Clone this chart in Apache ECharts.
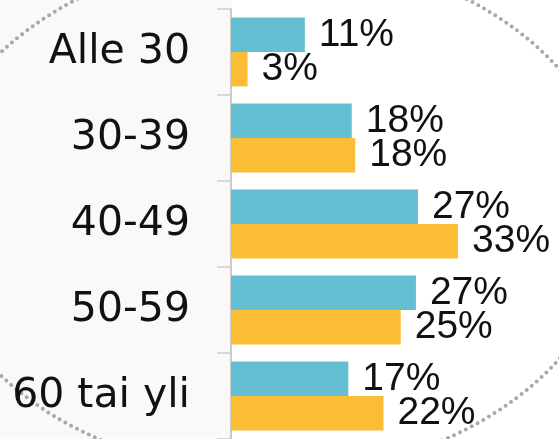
<!DOCTYPE html>
<html>
<head>
<meta charset="utf-8">
<script src="https://cdn.jsdelivr.net/npm/echarts@6/dist/echarts.min.js"></script>
<style>html,body{margin:0;padding:0;background:#faf9f7;}#c{width:559px;height:439px;}</style>
</head>
<body>
<div id="c"></div>
<script>
const categories = ['Alle 30', '30-39', '40-49', '50-59', '60 tai yli'];
const tealValues = [10.7, 17.5, 27.1, 26.8, 17.0];
const yellowValues = [2.4, 18.0, 32.9, 24.6, 22.1];
const tealLabels = ['11%', '18%', '27%', '27%', '17%'];
const yellowLabels = ['3%', '18%', '33%', '25%', '22%'];

const chart = echarts.init(document.getElementById('c'));
const labelStyle = (labels) => ({
  show: true,
  position: 'right',
  distance: 14,
  fontFamily: 'Liberation Sans',
  fontSize: 39,
  color: '#111',
  formatter: (p) => labels[p.dataIndex]
});
chart.setOption({
  backgroundColor: '#faf9f7',
  animation: false,
  graphic: [
    { type: 'rect', z: -10, silent: true, shape: { x: 232, y: 0, width: 327, height: 439 }, style: { fill: '#ffffff' } },
    { type: 'ellipse', z: -5, silent: true, shape: { cx: 272, cy: 214, rx: 346, ry: 260 },
      style: { fill: 'none', stroke: '#a9a9a9', lineWidth: 4, lineDash: [0, 6.6], lineCap: 'round' } }
  ],
  grid: { left: 231, top: 9, width: 276, height: 431.5 },
  xAxis: { type: 'value', min: 0, max: 40, show: false },
  yAxis: {
    type: 'category', inverse: true, data: categories,
    axisLine: { show: true, lineStyle: { color: '#cccccc', width: 2 } },
    axisTick: { show: true, length: 14, lineStyle: { color: '#cccccc', width: 1.5 } },
    axisLabel: { margin: 41, fontFamily: 'DejaVu Sans', fontSize: 41, color: '#111' }
  },
  series: [
    { type: 'bar', data: tealValues, barGap: '0%', barCategoryGap: '20%', itemStyle: { color: '#63bfd1' }, label: labelStyle(tealLabels) },
    { type: 'bar', data: yellowValues, barGap: '0%', barCategoryGap: '20%', itemStyle: { color: '#fbbd35' }, label: labelStyle(yellowLabels) }
  ]
});
</script>
</body>
</html>
